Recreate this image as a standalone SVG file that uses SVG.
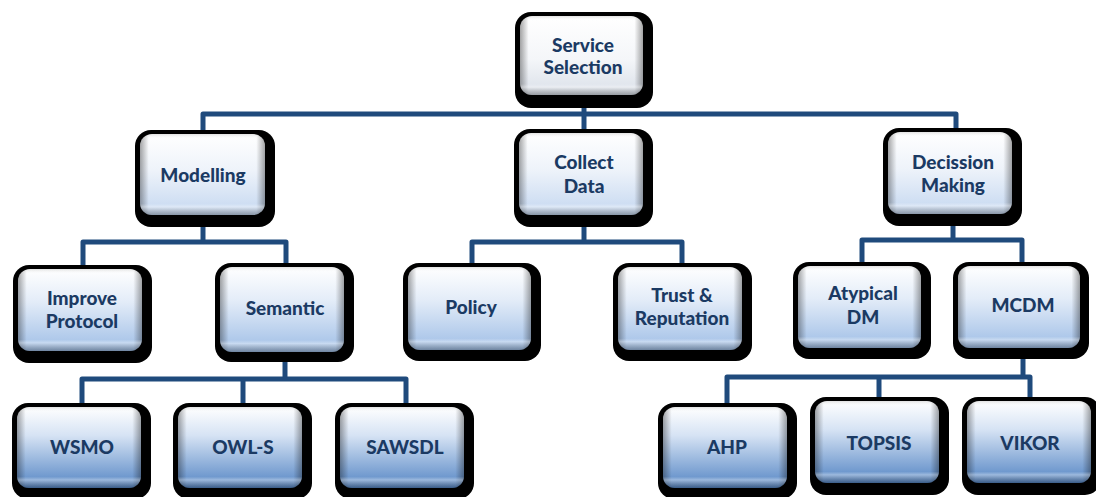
<svg xmlns="http://www.w3.org/2000/svg" width="1096" height="497" viewBox="0 0 1096 497">
  <defs>
    <linearGradient id="g0" x1="0" y1="0" x2="0" y2="1">
      <stop offset="0" stop-color="#ffffff"/>
      <stop offset="0.55" stop-color="#f4f6f9"/>
      <stop offset="1" stop-color="#d9dfe8"/>
    </linearGradient>
    <linearGradient id="g1" x1="0" y1="0" x2="0" y2="1">
      <stop offset="0" stop-color="#ffffff"/>
      <stop offset="0.45" stop-color="#eef3fa"/>
      <stop offset="1" stop-color="#c4d7f0"/>
    </linearGradient>
    <linearGradient id="g2" x1="0" y1="0" x2="0" y2="1">
      <stop offset="0" stop-color="#ffffff"/>
      <stop offset="0.4" stop-color="#e3ecf8"/>
      <stop offset="1" stop-color="#9fbee6"/>
    </linearGradient>
    <linearGradient id="g3" x1="0" y1="0" x2="0" y2="1">
      <stop offset="0" stop-color="#ffffff"/>
      <stop offset="0.35" stop-color="#d6e3f4"/>
      <stop offset="1" stop-color="#5485c4"/>
    </linearGradient>
    <!-- bevel shading along the side edges -->
    <linearGradient id="edgeH" x1="0" y1="0" x2="1" y2="0">
      <stop offset="0" stop-color="#000" stop-opacity="0.35"/>
      <stop offset="0.07" stop-color="#000" stop-opacity="0"/>
      <stop offset="0.93" stop-color="#000" stop-opacity="0"/>
      <stop offset="1" stop-color="#000" stop-opacity="0.35"/>
    </linearGradient>
    <!-- bevel shading along the bottom edge -->
    <linearGradient id="edgeV" x1="0" y1="0" x2="0" y2="1">
      <stop offset="0" stop-color="#000" stop-opacity="0.12"/>
      <stop offset="0.06" stop-color="#fff" stop-opacity="0"/>
      <stop offset="0.86" stop-color="#fff" stop-opacity="0"/>
      <stop offset="0.9" stop-color="#fff" stop-opacity="0.35"/>
      <stop offset="1" stop-color="#000" stop-opacity="0.3"/>
    </linearGradient>
  </defs>
  <style>
    .shadow { fill: #000; }
    .bevelH { fill: url(#edgeH); }
    .bevelV { fill: url(#edgeV); }
    .lvl0 { fill: url(#g0); }
    .lvl1 { fill: url(#g1); }
    .lvl2 { fill: url(#g2); }
    .lvl3 { fill: url(#g3); }
    .label { font-family: Lato, "Liberation Sans", sans-serif; font-weight: 900; font-size: 19px; fill: #1b3a63; text-anchor: middle; }
    .conn { fill: none; stroke: #1f4a7c; stroke-width: 5; stroke-linejoin: round; }
  </style>

  <!-- connectors -->
  <g id="connectors">
    <path class="conn" d="M584,95 V114"/>
    <path class="conn" d="M203,134 V114 H956 V132"/>
    <path class="conn" d="M584,114 V133"/>

    <path class="conn" d="M203,215 V242"/>
    <path class="conn" d="M83,269 V242 H286 V267"/>

    <path class="conn" d="M584,215 V242"/>
    <path class="conn" d="M472,267 V242 H682 V267"/>

    <path class="conn" d="M953,214 V240"/>
    <path class="conn" d="M862,266 V240 H1022 V266"/>

    <path class="conn" d="M285,352 V379"/>
    <path class="conn" d="M82,407 V379 H406 V407"/>
    <path class="conn" d="M243,379 V407"/>

    <path class="conn" d="M1023,350 V377"/>
    <path class="conn" d="M727,407 V377 H1030 V401"/>
    <path class="conn" d="M879,377 V401"/>
  </g>

  <!-- level 0 -->
  <g id="service-selection">
    <rect class="shadow" x="515" y="12" width="138" height="96" rx="16"/>
    <rect class="lvl0" x="520" y="16" width="123" height="79" rx="12"/>
    <rect class="bevelH" x="520" y="16" width="123" height="79" rx="12"/>
    <rect class="bevelV" x="520" y="16" width="123" height="79" rx="12"/>
    <text class="label" x="583" y="52">Service</text>
    <text class="label" x="583" y="74">Selection</text>
  </g>

  <!-- level 1 -->
  <g id="modelling">
    <rect class="shadow" x="135" y="130" width="140" height="97" rx="16"/>
    <rect class="lvl1" x="140" y="134" width="125" height="81" rx="12"/>
    <rect class="bevelH" x="140" y="134" width="125" height="81" rx="12"/>
    <rect class="bevelV" x="140" y="134" width="125" height="81" rx="12"/>
    <text class="label" x="203" y="182">Modelling</text>
  </g>
  <g id="collect-data">
    <rect class="shadow" x="514" y="129" width="139" height="98" rx="16"/>
    <rect class="lvl1" x="519" y="133" width="124" height="82" rx="12"/>
    <rect class="bevelH" x="519" y="133" width="124" height="82" rx="12"/>
    <rect class="bevelV" x="519" y="133" width="124" height="82" rx="12"/>
    <text class="label" x="584" y="169">Collect</text>
    <text class="label" x="584" y="193">Data</text>
  </g>
  <g id="decission-making">
    <rect class="shadow" x="883" y="128" width="139" height="98" rx="16"/>
    <rect class="lvl1" x="888" y="132" width="124" height="82" rx="12"/>
    <rect class="bevelH" x="888" y="132" width="124" height="82" rx="12"/>
    <rect class="bevelV" x="888" y="132" width="124" height="82" rx="12"/>
    <text class="label" x="953" y="169">Decission</text>
    <text class="label" x="953" y="192">Making</text>
  </g>

  <!-- level 2 -->
  <g id="improve-protocol">
    <rect class="shadow" x="13" y="265" width="139" height="98" rx="16"/>
    <rect class="lvl2" x="18" y="269" width="124" height="82" rx="12"/>
    <rect class="bevelH" x="18" y="269" width="124" height="82" rx="12"/>
    <rect class="bevelV" x="18" y="269" width="124" height="82" rx="12"/>
    <text class="label" x="82" y="305">Improve</text>
    <text class="label" x="82" y="328">Protocol</text>
  </g>
  <g id="semantic">
    <rect class="shadow" x="215" y="263" width="139" height="99" rx="16"/>
    <rect class="lvl2" x="220" y="267" width="124" height="85" rx="12"/>
    <rect class="bevelH" x="220" y="267" width="124" height="85" rx="12"/>
    <rect class="bevelV" x="220" y="267" width="124" height="85" rx="12"/>
    <text class="label" x="285" y="315">Semantic</text>
  </g>
  <g id="policy">
    <rect class="shadow" x="403" y="263" width="138" height="98" rx="16"/>
    <rect class="lvl2" x="408" y="267" width="123" height="83" rx="12"/>
    <rect class="bevelH" x="408" y="267" width="123" height="83" rx="12"/>
    <rect class="bevelV" x="408" y="267" width="123" height="83" rx="12"/>
    <text class="label" x="471" y="314">Policy</text>
  </g>
  <g id="trust-reputation">
    <rect class="shadow" x="613" y="263" width="139" height="98" rx="16"/>
    <rect class="lvl2" x="618" y="267" width="124" height="83" rx="12"/>
    <rect class="bevelH" x="618" y="267" width="124" height="83" rx="12"/>
    <rect class="bevelV" x="618" y="267" width="124" height="83" rx="12"/>
    <text class="label" x="682" y="302">Trust &amp;</text>
    <text class="label" x="682" y="325">Reputation</text>
  </g>
  <g id="atypical-dm">
    <rect class="shadow" x="793" y="262" width="138" height="97" rx="16"/>
    <rect class="lvl2" x="798" y="266" width="123" height="82" rx="12"/>
    <rect class="bevelH" x="798" y="266" width="123" height="82" rx="12"/>
    <rect class="bevelV" x="798" y="266" width="123" height="82" rx="12"/>
    <text class="label" x="863" y="300">Atypical</text>
    <text class="label" x="863" y="324">DM</text>
  </g>
  <g id="mcdm">
    <rect class="shadow" x="953" y="262" width="136" height="97" rx="16"/>
    <rect class="lvl2" x="958" y="266" width="122" height="82" rx="12"/>
    <rect class="bevelH" x="958" y="266" width="122" height="82" rx="12"/>
    <rect class="bevelV" x="958" y="266" width="122" height="82" rx="12"/>
    <text class="label" x="1023" y="312">MCDM</text>
  </g>

  <!-- level 3 -->
  <g id="wsmo">
    <rect class="shadow" x="12" y="403" width="139" height="96" rx="16"/>
    <rect class="lvl3" x="17" y="407" width="124" height="81" rx="12"/>
    <rect class="bevelH" x="17" y="407" width="124" height="81" rx="12"/>
    <rect class="bevelV" x="17" y="407" width="124" height="81" rx="12"/>
    <text class="label" x="82" y="454">WSMO</text>
  </g>
  <g id="owl-s">
    <rect class="shadow" x="173" y="403" width="139" height="96" rx="16"/>
    <rect class="lvl3" x="178" y="407" width="124" height="81" rx="12"/>
    <rect class="bevelH" x="178" y="407" width="124" height="81" rx="12"/>
    <rect class="bevelV" x="178" y="407" width="124" height="81" rx="12"/>
    <text class="label" x="243" y="454">OWL-S</text>
  </g>
  <g id="sawsdl">
    <rect class="shadow" x="335" y="403" width="139" height="96" rx="16"/>
    <rect class="lvl3" x="340" y="407" width="124" height="81" rx="12"/>
    <rect class="bevelH" x="340" y="407" width="124" height="81" rx="12"/>
    <rect class="bevelV" x="340" y="407" width="124" height="81" rx="12"/>
    <text class="label" x="405" y="454">SAWSDL</text>
  </g>
  <g id="ahp">
    <rect class="shadow" x="658" y="403" width="139" height="96" rx="16"/>
    <rect class="lvl3" x="663" y="407" width="124" height="81" rx="12"/>
    <rect class="bevelH" x="663" y="407" width="124" height="81" rx="12"/>
    <rect class="bevelV" x="663" y="407" width="124" height="81" rx="12"/>
    <text class="label" x="727" y="454">AHP</text>
  </g>
  <g id="topsis">
    <rect class="shadow" x="810" y="397" width="139" height="98" rx="16"/>
    <rect class="lvl3" x="815" y="401" width="124" height="82" rx="12"/>
    <rect class="bevelH" x="815" y="401" width="124" height="82" rx="12"/>
    <rect class="bevelV" x="815" y="401" width="124" height="82" rx="12"/>
    <text class="label" x="879" y="450">TOPSIS</text>
  </g>
  <g id="vikor">
    <rect class="shadow" x="962" y="397" width="139" height="98" rx="16"/>
    <rect class="lvl3" x="967" y="401" width="124" height="82" rx="12"/>
    <rect class="bevelH" x="967" y="401" width="124" height="82" rx="12"/>
    <rect class="bevelV" x="967" y="401" width="124" height="82" rx="12"/>
    <text class="label" x="1030" y="450">VIKOR</text>
  </g>
</svg>
